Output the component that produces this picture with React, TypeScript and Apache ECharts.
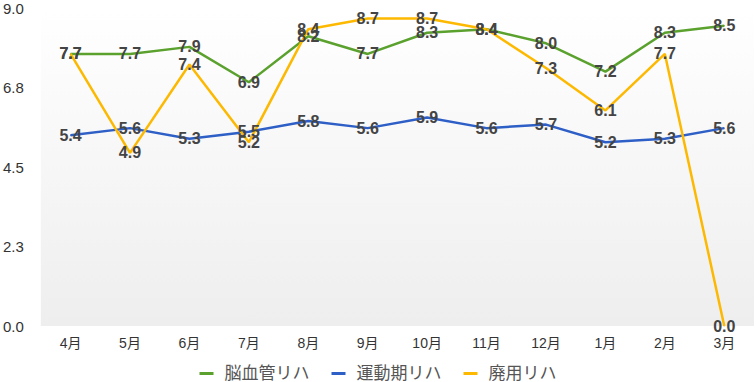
import React, { useEffect, useRef } from "react";
import * as echarts from "echarts";

const months = ["4月", "5月", "6月", "7月", "8月", "9月", "10月", "11月", "12月", "1月", "2月", "3月"];
const seriesNames = ["脳血管リハ", "運動期リハ", "廃用リハ"];
const noukekkan = [7.7, 7.7, 7.9, 6.9, 8.2, 7.7, 8.3, 8.4, 8.0, 7.2, 8.3, 8.5];
const undouki = [5.4, 5.6, 5.3, 5.5, 5.8, 5.6, 5.9, 5.6, 5.7, 5.2, 5.3, 5.6];
const haiyou = [7.7, 4.9, 7.4, 5.2, 8.4, 8.7, 8.7, 8.4, 7.3, 6.1, 7.7, 0.0];
const colors = ["#5ba12e", "#2e5fc6", "#fdb800"];

const FONT = "'Liberation Sans', Arial, 'Noto Sans CJK JP', sans-serif";

export default function App() {
  const ref = useRef<HTMLDivElement>(null);
  useEffect(() => {
    if (!ref.current) return;
    const chart = echarts.init(ref.current, undefined, { renderer: "svg" });
    const mk = (name: string, data: number[], color: string) => ({
      name,
      type: "line",
      data,
      symbol: "circle",
      symbolSize: 1,
      itemStyle: { color },
      lineStyle: { color, width: 2.5 },
      label: {
        show: true,
        position: "inside",
        color: "#444",
        fontWeight: "bold",
        fontSize: 16,
        fontFamily: FONT,
        formatter: (p: any) => Number(p.value).toFixed(1),
      },
      labelLayout: { hideOverlap: false },
    });
    chart.setOption({
      animation: false,
      textStyle: { fontFamily: FONT },
      grid: {
        left: 40,
        right: 2,
        top: 8,
        bottom: 56,
        show: true,
        borderWidth: 0,
        backgroundColor: new echarts.graphic.LinearGradient(0, 0, 0, 1, [
          { offset: 0, color: "#ffffff" },
          { offset: 1, color: "#eeeeee" },
        ]),
      },
      legend: {
        top: 360,
        left: "center",
        itemWidth: 14,
        itemHeight: 3,
        itemGap: 22,
        icon: "rect",
        textStyle: { color: "#555", fontSize: 17, fontFamily: FONT, padding: [0, 0, 0, 6] },
        data: seriesNames.map((n, i) => ({ name: n, itemStyle: { color: colors[i] } })),
      },
      xAxis: {
        type: "category",
        data: months,
        boundaryGap: true,
        axisLine: { show: false },
        axisTick: { show: false },
        axisLabel: { color: "#333", fontSize: 14, margin: 10, fontFamily: FONT },
      },
      yAxis: {
        type: "value",
        min: 0,
        max: 9,
        interval: 2.25,
        axisLine: { show: false },
        axisTick: { show: false },
        splitLine: { show: false },
        axisLabel: {
          color: "#333",
          fontSize: 15,
          margin: 17,
          fontFamily: FONT,
          formatter: (v: number) => v.toFixed(1),
        },
      },
      series: [
        mk(seriesNames[0], noukekkan, colors[0]),
        mk(seriesNames[1], undouki, colors[1]),
        mk(seriesNames[2], haiyou, colors[2]),
      ],
    });
    return () => chart.dispose();
  }, []);
  return (
    <div
      ref={ref}
      style={{ position: "fixed", left: 0, top: 0, width: 756, height: 382, background: "#fff" }}
    />
  );
}
